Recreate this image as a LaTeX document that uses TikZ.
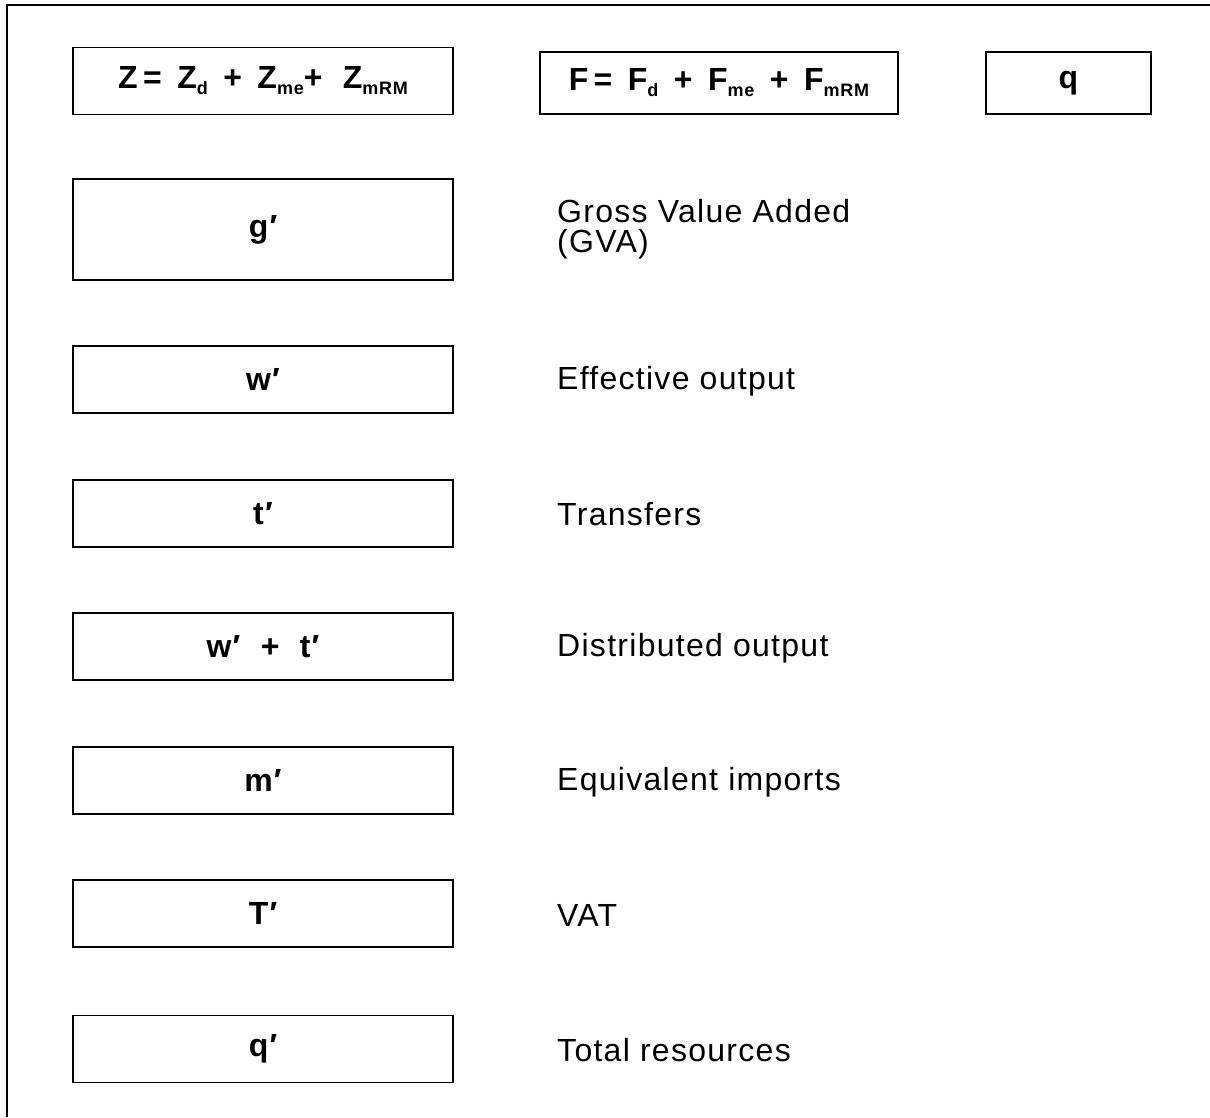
\documentclass[tikz,border=0pt]{standalone}
\usepackage{fontspec}
\setmainfont{Liberation Sans}[LetterSpace=4]
\newcommand\sbs[1]{\raisebox{-0.35ex}{\fontsize{18}{18}\selectfont #1}}
\begin{document}
\begin{tikzpicture}[x=1pt,y=-1pt,
  box/.style={draw, line width=1.6pt, minimum width=380pt, minimum height=67pt, inner sep=0pt,
    font=\bfseries\fontsize{32}{34}\selectfont},
  lbl/.style={anchor=west, inner sep=0pt, align=left, font=\fontsize{32}{30}\selectfont}]
\useasboundingbox (0,0) rectangle (1210,1117);
\draw[line width=1.8pt] (7,1117) -- (7,5) -- (1210,5);
% top row
\node[box] (z) at (263,81) {Z\,=\ \,Z\sbs{d} \,+\ \,Z\sbs{me}+ \ Z\sbs{mRM}};
\node[box, minimum width=358pt, minimum height=62pt] (f) at (719,83) {F\,=\ \,F\sbs{d} \,+\ \,F\sbs{me} \,+\ \,F\sbs{mRM}};
\node[box, minimum width=165pt, minimum height=62pt] (q) at (1068.5,83) {q};
% column
\node[box, minimum height=101pt] (g) at (263,229.5) {g′};
\node[box] (w) at (263,379.5) {w′};
\node[box] (t) at (263,513.5) {t′};
\node[box] (wt) at (263,646.5) {w′ \ + \ t′};
\node[box] (m) at (263,780.5) {m′};
\node[box] (T) at (263,913.5) {T′};
\node[box] (qp) at (263,1049) {q′};
% labels
\node[lbl] (lg) at (557,229) {Gross Value Added\\(GVA)};
\node[lbl] (lw) at (557,381) {Effective output};
\node[lbl] (lt) at (557,514) {Transfers};
\node[lbl] (lwt) at (557,648) {Distributed output};
\node[lbl] (lm) at (557,782) {Equivalent imports};
\node[lbl] (lT) at (557,915) {VAT};
\node[lbl] (lq) at (557,1050) {Total resources};
\end{tikzpicture}
\end{document}
